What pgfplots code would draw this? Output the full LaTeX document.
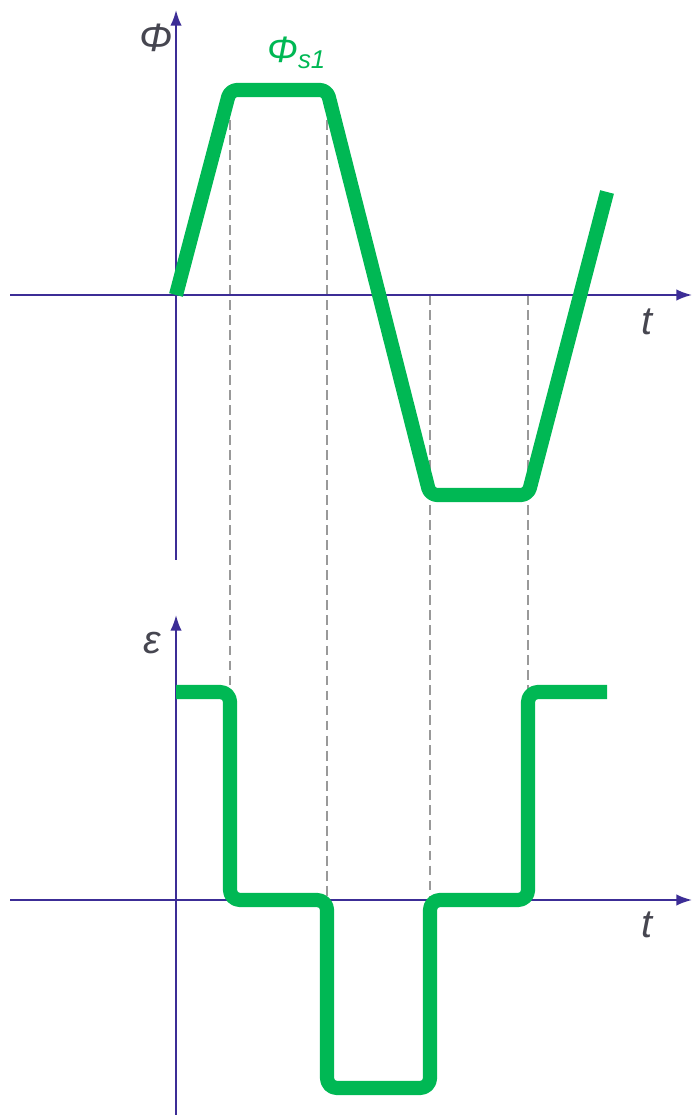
\documentclass[border=0pt]{standalone}
\usepackage{fontspec}
\setmainfont{Liberation Sans}
\usepackage{pgfplots}
\pgfplotsset{compat=1.18}
\usetikzlibrary{arrows.meta}

\definecolor{phigreen}{RGB}{0,184,84}
\definecolor{axblue}{RGB}{60,45,150}
\definecolor{labgray}{RGB}{70,70,80}

\begin{document}
\begin{tikzpicture}
\begin{axis}[
    width=245pt, height=393.6pt,
    scale only axis,
    hide axis,
    clip=false,
    xmin=0, xmax=694,
    ymin=0, ymax=1115,
  ]
  % dashed guides
  \addplot[gray!80, line width=0.5pt, dash pattern=on 3.5pt off 1.8pt] coordinates {(230,1025) (230,423)};
  \addplot[gray!80, line width=0.5pt, dash pattern=on 3.5pt off 1.8pt] coordinates {(327,1025) (327,215)};
  \addplot[gray!80, line width=0.5pt, dash pattern=on 3.5pt off 1.8pt] coordinates {(430,820) (430,215)};
  \addplot[gray!80, line width=0.5pt, dash pattern=on 3.5pt off 1.8pt] coordinates {(528,820) (528,423)};

  % axes
  \addplot[axblue, line width=0.7pt, -{Latex[length=5.5pt,width=4pt]}] coordinates {(10,820) (692,820)};
  \addplot[axblue, line width=0.7pt, -{Latex[length=5.5pt,width=4pt]}] coordinates {(176,555) (176,1105)};
  \addplot[axblue, line width=0.7pt, -{Latex[length=5.5pt,width=4pt]}] coordinates {(10,215) (692,215)};
  \addplot[axblue, line width=0.7pt, -{Latex[length=5.5pt,width=4pt]}] coordinates {(176,0) (176,500)};

  % flux
  \addplot[phigreen, line width=5pt, line join=round, rounded corners=2.5pt] coordinates {
    (176,820) (230,1025) (327,1025) (430,620) (528,620) (607,923)
  };
  % emf
  \addplot[phigreen, line width=5pt, line join=round, rounded corners=3.5pt] coordinates {
    (176,423) (230,423) (230,215) (327,215) (327,27) (430,27) (430,215) (528,215) (528,423) (607,423)
  };

  % labels
  \node[labgray, font=\fontsize{14}{16}\selectfont\itshape] at (axis cs:156,1077) {Φ};
  \node[phigreen, font=\fontsize{13}{15}\selectfont\itshape] at (axis cs:297,1062) {Φ\textsubscript{s1}};
  \node[labgray, font=\fontsize{14}{16}\selectfont\itshape] at (axis cs:647,793) {t};
  \node[labgray, font=\fontsize{14}{16}\selectfont\itshape] at (axis cs:152,472) {ε};
  \node[labgray, font=\fontsize{14}{16}\selectfont\itshape] at (axis cs:647,190) {t};
\end{axis}
\pgfresetboundingbox
\path[use as bounding box] (current axis.south west) rectangle (current axis.north east);
\end{tikzpicture}
\end{document}
